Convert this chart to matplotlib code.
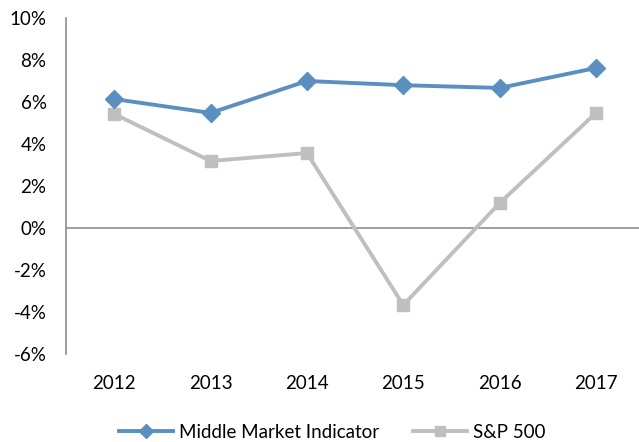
import matplotlib.pyplot as plt
from matplotlib.ticker import FuncFormatter

years = ['2012', '2013', '2014', '2015', '2016', '2017']
middle_market = [6.14, 5.48, 7.0, 6.8, 6.67, 7.62]
sp500 = [5.43, 3.19, 3.57, -3.67, 1.19, 5.48]

plt.rcParams['font.family'] = ['Lato', 'DejaVu Sans']

fig = plt.figure(figsize=(6.39, 4.42), dpi=100)
ax = fig.add_axes([66 / 639, 1 - 354 / 442, 1 - 66 / 639, 336 / 442])

x = list(range(len(years)))
ax.plot(x, middle_market, color='#5B8FC0', lw=2.8, marker='D', ms=9,
        label='Middle Market Indicator', zorder=3)
ax.plot(x, sp500, color='#BFBFBF', lw=2.8, marker='s', ms=9,
        label='S&P 500', zorder=2)

ax.axhline(0, color='#8C8C8C', lw=1.2, zorder=1)

ax.set_xlim(-0.5, (639 - 114) / 96.4)
ax.set_ylim(-6, 10)
ax.set_yticks(range(-6, 11, 2))
ax.yaxis.set_major_formatter(FuncFormatter(lambda v, p: f'{int(v)}%'))
ax.set_xticks(x)
ax.set_xticklabels(years)

for s in ['top', 'right', 'bottom']:
    ax.spines[s].set_visible(False)
ax.spines['left'].set_color('#8C8C8C')
ax.spines['left'].set_linewidth(1.2)
ax.tick_params(axis='both', length=0, labelsize=13.5, colors='black')
ax.tick_params(axis='y', pad=14)
ax.tick_params(axis='x', pad=15)

fig.legend(loc='center left', bbox_to_anchor=(119 / 639, 1 - 432 / 442), ncol=2,
           frameon=False, fontsize=13.5, handlelength=2.9, columnspacing=1.8,
           handletextpad=0.3, borderpad=0, borderaxespad=0, markerscale=0.75)

fig.savefig('out.png', dpi=100)
